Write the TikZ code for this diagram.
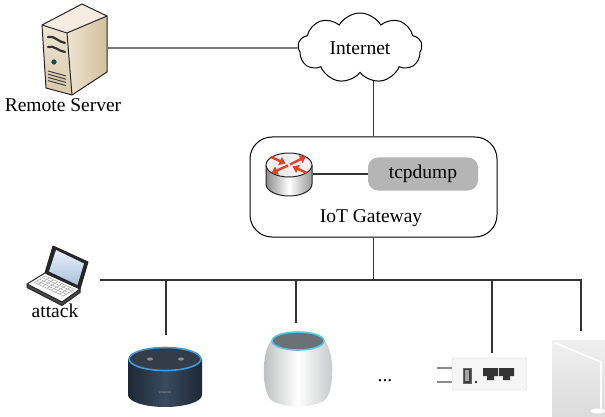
\documentclass[tikz,border=0pt]{standalone}
\usepackage{fontspec}
\setmainfont{Liberation Serif}
\usetikzlibrary{shapes.symbols,arrows.meta,backgrounds}

\definecolor{srvtop}{HTML}{F4EDDF}
\definecolor{srvlite}{HTML}{EFE5D2}
\definecolor{srvdark}{HTML}{D3BF9B}
\definecolor{tcpgray}{HTML}{B5B5B5}
\definecolor{arrowred}{HTML}{E0431D}
\definecolor{echonavy}{HTML}{1C2836}
\definecolor{echomid}{HTML}{3A4B5E}
\definecolor{echoring}{HTML}{3F9BE0}
\definecolor{podbody}{HTML}{D9DBDC}
\definecolor{podtop}{HTML}{6B7277}
\definecolor{podring}{HTML}{55C5E4}
\definecolor{screenhi}{HTML}{E8F0FA}
\definecolor{screenlo}{HTML}{A8C2DE}

\begin{document}
\begin{tikzpicture}[x=1pt,y=-1pt,
  link/.style={line width=1.2pt,draw=black!80},
  lbl/.style={font=\fontsize{19.5}{22}\selectfont,inner sep=0pt},
  icon/.style={draw=none,inner sep=0pt},
  outline/.style={draw=black!85,line width=1pt,line join=round},
  redarrow/.style={line width=2.4pt,draw=arrowred,-{Triangle[length=6pt,width=8.5pt]}}]

\useasboundingbox (0,0) rectangle (605,417);

% ---------- nodes ----------
\node[icon,minimum width=68,minimum height=96] (server) at (74,48) {};
\node[lbl,anchor=base] (serverlbl) at (63,112) {Remote Server};

\node[cloud,draw,fill=white,line width=1pt,cloud puffs=9,cloud puff arc=120,
      aspect=1.9,minimum width=124,minimum height=70,lbl] (inet) at (360,48) {Internet};

\node[draw,line width=1pt,rounded corners=22pt,minimum width=247,minimum height=100] (gw) at (373.5,187) {};
\node[icon,minimum width=48,minimum height=44] (router) at (289,174) {};
\node[lbl,fill=tcpgray,rounded corners=10pt,minimum width=110,minimum height=33] (tcp) at (423,174) {tcpdump};
\node[lbl,anchor=base] (gwlbl) at (371,222) {IoT Gateway};

\node[icon,minimum width=86,minimum height=70] (laptop) at (57,280) {};
\node[lbl,anchor=base] (attacklbl) at (55,317) {attack};

\node[icon,minimum width=76,minimum height=70] (echo) at (166,370) {};
\node[icon,minimum width=70,minimum height=84] (pod) at (296,365) {};
\node[lbl,anchor=base] (dots) at (385,381) {...};
\node[icon,minimum width=90,minimum height=39] (adapter) at (492,372.5) {};
\node[icon,minimum width=50,minimum height=86] (lamp) at (581,374) {};

% ---------- connectors ----------
\draw[link] (server) -- (inet);
\begin{scope}[on background layer]
  \draw[link] (gw.north) -- (gw.north |- inet.center);
\end{scope}
\draw[link] (router) -- (tcp);
\draw[link] (gw.south) -- (gw.south |- laptop.east);
\draw[link] (laptop.east) -- (lamp.north |- laptop.east) -- (lamp.north);
\draw[link] (echo.north) -- (echo.north |- laptop.east);
\draw[link] (pod.north) -- (pod.north |- laptop.east);
\draw[link] (adapter.north) -- (adapter.north |- laptop.east);

% ---------- server tower ----------
\fill[srvtop] (42,25) -- (82,4) -- (107,16) -- (67,33) -- cycle;
\shade[left color=srvlite,right color=srvdark] (67,33) -- (107,16) -- (107,72) -- (72,95) -- cycle;
\shade[top color=srvlite,bottom color=srvdark!85] (42,25) -- (67,33) -- (72,95) -- (46,88) -- cycle;
\draw[outline] (42,25) -- (82,4) -- (107,16) -- (107,72) -- (72,95) -- (46,88) -- cycle;
\draw[outline] (42,25) -- (67,33) -- (107,16);
\draw[outline] (67,33) -- (72,95);
\draw[line width=2.2pt,black!80,line cap=round] (48,37) .. controls (54,35) and (58,42) .. (65,43);
\draw[line width=2.2pt,black!80,line cap=round] (48,47) .. controls (54,45) and (58,51) .. (65,52);
\draw[fill=teal!70!black,draw=black!80,line width=0.5pt] (54,62) circle[radius=2.3];
\foreach \k in {0,3.2,6.4,9.6}
  \draw[line width=1pt,black!75] (48,{71+\k}) -- (66,{76+\k});

% ---------- router ----------
\shade[left color=black!45,right color=black!40,middle color=white]
  (266,165) -- (266,184) arc[start angle=180,end angle=0,x radius=23,y radius=12] -- (312,165) -- cycle;
\draw[outline] (266,165) -- (266,184) arc[start angle=180,end angle=0,x radius=23,y radius=12] -- (312,165);
\draw[outline,fill=black!6] (289,165) ellipse[x radius=23,y radius=12];
\draw[redarrow] (290,164.5) -- (306,156.5);
\draw[redarrow] (288,165.5) -- (271.5,173);
\draw[redarrow] (271,157) -- (285.5,163.5);
\draw[redarrow] (307,173) -- (292.5,166.5);

% ---------- laptop ----------
\draw[outline,fill=black!85] (53,246) -- (88,262) -- (80,289) -- (45,273) -- cycle;
\shade[top color=screenhi,bottom color=screenlo] (56,250) -- (84,263.5) -- (77.5,285) -- (49,271.5) -- cycle;
\draw[outline,fill=black!70] (27,284) -- (27,287.5) -- (62,305.5) -- (80,292.5) -- (80,289) -- (62,302) -- cycle;
\draw[outline,fill=white] (45,273) -- (80,289) -- (62,302) -- (27,284) -- cycle;
\foreach \v in {0.15,0.3,0.45,0.6,0.75}
  \draw[black!35,line width=0.5pt] ({45+35*0.08-18*\v},{273+16*0.08+11*\v}) -- ({45+35*0.92-18*\v},{273+16*0.92+11*\v});
\foreach \u in {0.08,0.2,0.32,0.44,0.56,0.68,0.8,0.92}
  \draw[black!35,line width=0.5pt] ({45+35*\u-18*0.15},{273+16*\u+11*0.15}) -- ({45+35*\u-18*0.75},{273+16*\u+11*0.75});

% ---------- echo dot ----------
\shade[left color=echonavy,right color=echonavy,middle color=echomid]
  (128,359) -- (128,395) arc[start angle=180,end angle=0,x radius=37,y radius=12] -- (202,359) -- cycle;
\draw[line width=1.6pt,draw=echoring,fill=echonavy!90!white] (165,359) ellipse[x radius=36,y radius=11.5];
\fill[black!45] (150,359) ellipse[x radius=3,y radius=1.6];
\fill[black!45] (181,359) ellipse[x radius=3,y radius=1.6];
\node[icon,text=black!45,font=\fontsize{4}{4}\selectfont] (echologo) at (165,393) {amazon};

% ---------- smart speaker ----------
\shade[left color=podbody!85!black,right color=podbody!90!black,middle color=white]
  (271,341) .. controls (262,352) and (261,386) .. (270,399)
  .. controls (280,409) and (316,409) .. (326,399)
  .. controls (335,386) and (334,352) .. (325,341) -- cycle;
\draw[line width=1.6pt,draw=podring,fill=podtop] (298,341) ellipse[x radius=26,y radius=9];

% ---------- plug adapter ----------
\draw[black!45,line width=1.2pt] (437,368) -- (452,368);
\draw[black!45,line width=1.2pt] (437,382) -- (452,382);
\draw[draw=black!15,fill=black!4,rounded corners=2pt] (452,358) rectangle (527,390);
\draw[fill=black!75,draw=black!60] (463,368) rectangle (471,383);
\fill[black!35] (465,370) rectangle (469,381);
\fill[black!80] (476,382) circle[radius=1.3];
\foreach \p in {483,499}
  \fill[black!80] (\p,368) -- ({\p+15},368) -- ({\p+15},376) -- ({\p+11},376) -- ({\p+11},380)
     -- ({\p+4},380) -- ({\p+4},376) -- (\p,376) -- cycle;

% ---------- desk lamp ----------
\shade[top color=black!6,bottom color=black!14] (552,340) rectangle (605,417);
\draw[white,line width=1.6pt] (555,343) -- (601,362) -- (601,409);
\fill[white] (598,411) ellipse[x radius=7,y radius=2.5];

\end{tikzpicture}
\end{document}
